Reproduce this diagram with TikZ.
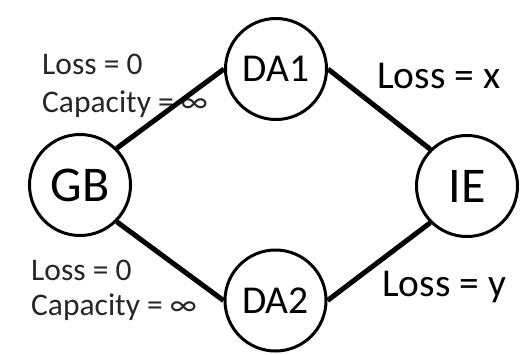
\documentclass[tikz,border=0pt]{standalone}
\usepackage{fontspec}
\setmainfont{Carlito}
\begin{document}
\begin{tikzpicture}[x=1pt,y=-1pt,
  hub/.style={circle,draw,line width=3pt,minimum size=101pt,inner sep=0pt},
  big/.style={font=\fontsize{50}{60}\selectfont},
  mid/.style={font=\fontsize{39.5}{48}\selectfont},
  small/.style={font=\fontsize{31.5}{38}\selectfont,text=black!85},
  lbl/.style={anchor=base west,inner sep=0pt},
  link/.style={line width=5pt}]
\useasboundingbox (0,0) rectangle (520,354);
% edge labels
\node[lbl,small] (l1a) at (42,74) {Loss = 0};
\node[lbl,small] (l1b) at (42,112) {Capacity = ∞};
\node[lbl,small] (l2a) at (31,280) {Loss = 0};
\node[lbl,small] (l2b) at (31,315) {Capacity = ∞};
\node[lbl,mid] (l3) at (377,88) {Loss = x};
\node[lbl,mid] (l4) at (382,296) {Loss = y};
% the four stations
\node[hub,big] (gb) at (80,185) {GB};
\node[hub,mid] (da1) at (276,69) {DA1};
\node[hub,mid] (da2) at (275.5,300.5) {DA2};
\node[hub,big] (ie) at (467,186) {IE};
% links
\draw[link] (gb.north east) -- (da1.west);
\draw[link] (da1.east) -- (ie.north west);
\draw[link] (gb.south east) -- (da2.west);
\draw[link] (da2.east) -- (ie.south west);
\end{tikzpicture}
\end{document}
